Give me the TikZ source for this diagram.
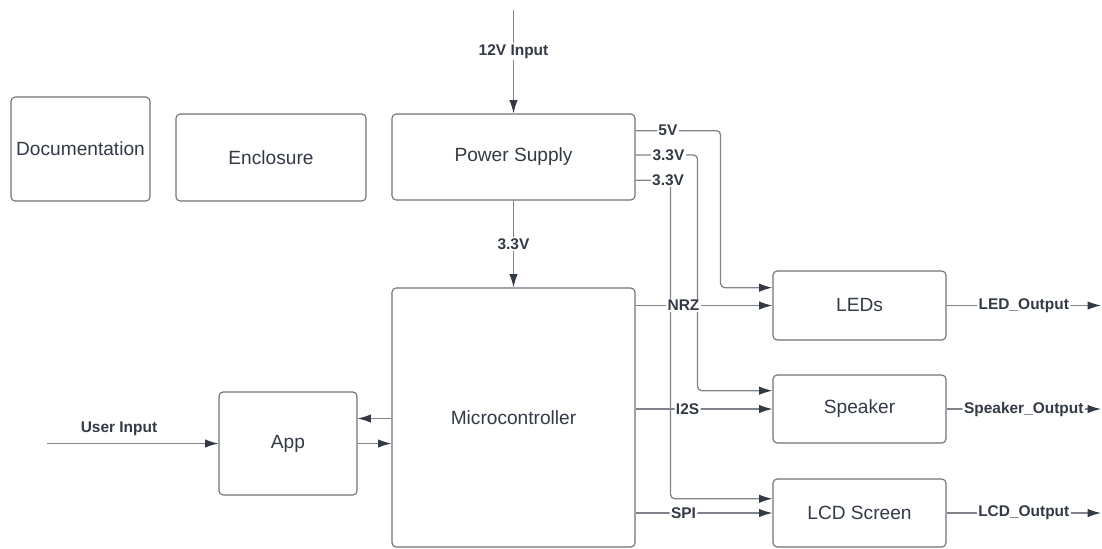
\documentclass[tikz,border=0pt]{standalone}
\usepackage{fontspec}
\setmainfont{Liberation Sans}
\usetikzlibrary{arrows.meta,positioning,calc}
\definecolor{boxline}{RGB}{112,115,121}
\definecolor{wire}{RGB}{128,132,138}
\definecolor{tip}{RGB}{51,58,69}
\definecolor{txt}{RGB}{51,58,69}

\begin{document}
\begin{tikzpicture}[x=0.025cm, y=-0.025cm,
        box/.style={rectangle, rounded corners=3pt, draw=boxline, line width=0.8pt, inner sep=2pt, align=center, fill=white, text=txt, font=\fontsize{13.6}{16}\selectfont},
        wire/.style={draw=wire, line width=0.9pt, rounded corners=3pt},
        arrow/.style={wire, -{Latex[length=9.5pt, width=6pt, color=tip]}},
        lbl/.style={fill=white, inner sep=1pt, text=txt, font=\fontsize{11}{13}\selectfont\bfseries}]

        \useasboundingbox (0,0) rectangle (1102,548);

        % blocks
        \node[box, minimum width=3.475cm, minimum height=2.6cm] (doc) at (80.5,149) {Documentation};
        \node[box, minimum width=4.75cm, minimum height=2.175cm] (encl) at (271,157.5) {Enclosure};
        \node[box, minimum width=6.075cm, minimum height=2.15cm] (psu) at (513.5,157) {Power Supply};
        \node[box, minimum width=6.075cm, minimum height=6.475cm] (mcu) at (513.5,417.5) {Microcontroller};
        \node[box, minimum width=3.45cm, minimum height=2.575cm] (app) at (288,443.5) {App};
        \node[box, minimum width=4.325cm, minimum height=1.725cm] (leds) at (859.5,305.5) {LEDs};
        \node[box, minimum width=4.325cm, minimum height=1.7cm] (spk) at (859.5,409) {Speaker};
        \node[box, minimum width=4.325cm, minimum height=1.7cm] (lcd) at (859.5,513) {LCD Screen};

        % free ends
        \coordinate (vin) at (513.5,10);
        \coordinate (userin) at (47,443.5);
        \coordinate (ledout) at (1101,305.5);
        \coordinate (spkout) at (1101,409);
        \coordinate (lcdout) at (1101,513);
        \coordinate (appin) at ($(app.east)+(0,-25)$);

        % power rails
        \draw[arrow] ($(psu.north east)!0.198!(psu.south east)$) -- ++(85,0) node[pos=0.38, lbl]{5V}
            |- ($(leds.north west)!0.246!(leds.south west)$);
        \draw[arrow] ($(psu.north east)!0.477!(psu.south east)$) -- ++(62,0) node[pos=0.53, lbl]{3.3V}
            |- ($(spk.north west)!0.235!(spk.south west)$);
        \draw[arrow] ($(psu.north east)!0.767!(psu.south east)$) -- ++(35,0) node[pos=0.93, lbl]{3.3V}
            |- ($(lcd.north west)!0.294!(lcd.south west)$);

        \draw[arrow] (vin) -- (psu.north) node[pos=0.4, lbl]{12V Input};
        \draw[arrow] (psu.south) -- (mcu.north) node[midway, lbl]{3.3V};

        % data lines
        \draw[arrow] (mcu.east |- leds.west) -- (leds.west) node[pos=0.35, lbl]{NRZ};
        \draw[arrow] (mcu.east |- spk.west) -- (spk.west) node[pos=0.38, lbl]{I2S};
        \draw[arrow] (mcu.east |- lcd.west) -- (lcd.west) node[pos=0.35, lbl]{SPI};

        \draw[arrow] (mcu.west |- appin) -- (appin);
        \draw[arrow] (app.east) -- (mcu.west |- app.east);
        \draw[arrow] (userin) -- (app.west) node[pos=0.42, above=2pt, text=txt, font=\fontsize{11}{13}\selectfont\bfseries]{User Input};

        % outputs
        \draw[arrow] (leds.east) -- (ledout) node[midway, lbl]{LED\_Output};
        \draw[arrow] (spk.east) -- (spkout) node[midway, lbl]{Speaker\_Output};
        \draw[arrow] (lcd.east) -- (lcdout) node[midway, lbl]{LCD\_Output};

    \end{tikzpicture}
\end{document}
